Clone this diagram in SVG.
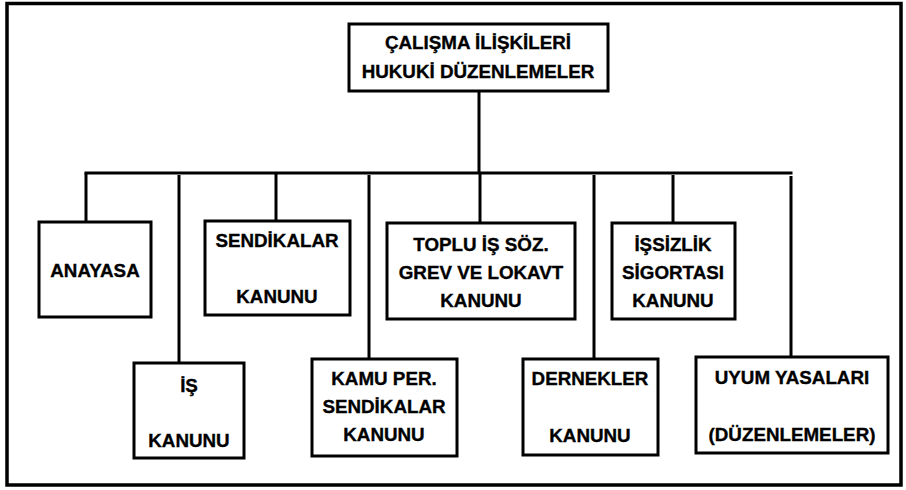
<svg xmlns="http://www.w3.org/2000/svg" width="906" height="490" viewBox="0 0 906 490">
<style>
.box{fill:#fff;stroke:#000;stroke-width:3}
.ln{stroke:#000;stroke-width:3;fill:none}
text{font-family:"Liberation Sans",Arial,sans-serif;font-weight:bold;font-size:18.8px;fill:#000;stroke:#000;stroke-width:0.35;text-anchor:middle}
</style>
<rect x="0" y="0" width="906" height="490" fill="#fff"/>
<rect x="7" y="3.5" width="894" height="481.5" fill="none" stroke="#000" stroke-width="3.5"/>
<g id="connectors" class="ln">
<line x1="479" y1="91" x2="479" y2="173"/>
<line x1="84.5" y1="173" x2="792.5" y2="173"/>
<line x1="86" y1="173" x2="86" y2="222"/>
<line x1="179" y1="175" x2="179" y2="363"/>
<line x1="276" y1="173" x2="276" y2="221"/>
<line x1="369" y1="175" x2="369" y2="359"/>
<line x1="480" y1="173" x2="480" y2="223"/>
<line x1="594" y1="175" x2="594" y2="359"/>
<line x1="673" y1="175" x2="673" y2="223"/>
<line x1="791" y1="176" x2="791" y2="357"/>
</g>
<g id="title">
<rect class="box" x="349" y="24" width="259" height="67"/>
<text x="478" y="49">ÇALIŞMA İLİŞKİLERİ</text>
<text x="478" y="78">HUKUKİ DÜZENLEMELER</text>
</g>
<g id="anayasa">
<rect class="box" x="39" y="222" width="112" height="95"/>
<text x="95" y="277">ANAYASA</text>
</g>
<g id="sendikalar">
<rect class="box" x="205" y="221" width="145" height="94"/>
<text x="277" y="247">SENDİKALAR</text>
<text x="277" y="303">KANUNU</text>
</g>
<g id="toplu">
<rect class="box" x="387" y="223" width="188" height="96"/>
<text x="481" y="251">TOPLU İŞ SÖZ.</text>
<text x="481" y="279">GREV VE LOKAVT</text>
<text x="481" y="307">KANUNU</text>
</g>
<g id="issizlik">
<rect class="box" x="612" y="223" width="123" height="96"/>
<text x="673" y="251">İŞSİZLİK</text>
<text x="673" y="279">SİGORTASI</text>
<text x="673" y="307">KANUNU</text>
</g>
<g id="is">
<rect class="box" x="134" y="363" width="110" height="95"/>
<text x="189" y="392">İŞ</text>
<text x="189" y="447">KANUNU</text>
</g>
<g id="kamu">
<rect class="box" x="312" y="359" width="145" height="97"/>
<text x="384" y="385">KAMU PER.</text>
<text x="384" y="413">SENDİKALAR</text>
<text x="384" y="441">KANUNU</text>
</g>
<g id="dernekler">
<rect class="box" x="523" y="359" width="135" height="96"/>
<text x="590" y="385">DERNEKLER</text>
<text x="590" y="442">KANUNU</text>
</g>
<g id="uyum">
<rect class="box" x="696" y="357" width="192" height="96"/>
<text x="792" y="384">UYUM YASALARI</text>
<text x="792" y="441">(DÜZENLEMELER)</text>
</g>
</svg>
